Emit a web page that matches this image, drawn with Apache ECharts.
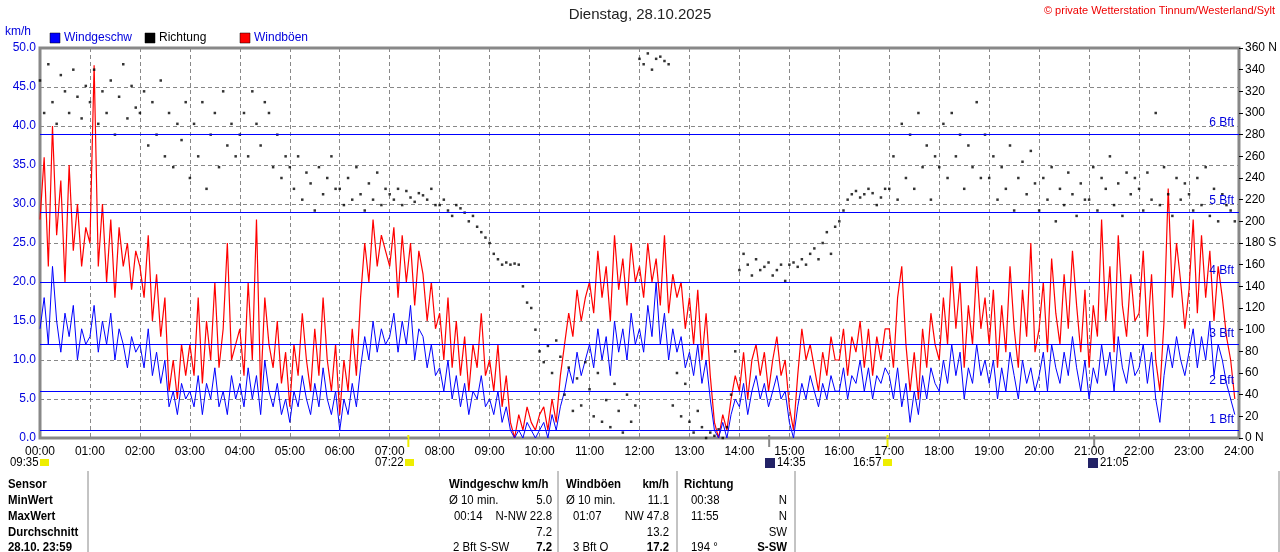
<!DOCTYPE html>
<html><head><meta charset="utf-8">
<script src="https://cdn.jsdelivr.net/npm/echarts@6/dist/echarts.min.js"></script>
<style>html,body{margin:0;padding:0;background:#fff}#c{width:1280px;height:552px}</style>
</head><body><div id="c"></div>
<script>
const hours=['00:00','01:00','02:00','03:00','04:00','05:00','06:00','07:00','08:00','09:00','10:00','11:00','12:00','13:00','14:00','15:00','16:00','17:00','18:00','19:00','20:00','21:00','22:00','23:00','24:00'];
const windSpeed=[
14,18,12,22,15,11,16,13,17,10,14,12, 13,17,11,15,12,16,10,14,12,9,13,11,
12,9,14,8,11,7,10,4,6,3,7,5, 6,4,8,3,7,5,9,4,6,3,8,5,
7,4,9,5,8,3,10,6,4,7,3,5, 2,6,4,8,5,3,7,4,9,5,3,6,
1,5,3,7,4,9,13,10,15,11,14,12, 13,16,11,15,12,17,10,14,13,9,12,8,
9,6,10,5,8,4,7,3,6,5,8,4, 5,3,6,2,4,1,0,1,0,2,1,0,
1,2,0,3,1,4,6,9,7,11,8,10, 12,9,14,10,13,8,15,11,14,10,16,12,
14,11,17,13,20,12,16,10,14,11,13,9, 11,8,12,7,10,5,1,0,2,0,3,5,
4,7,3,6,8,5,7,4,6,8,5,6, 2,0,4,7,5,8,6,4,7,5,8,6,
6,9,5,8,7,10,6,9,5,8,7,9, 8,5,9,4,7,2,6,3,8,5,9,7,
6,10,7,12,8,11,5,9,7,12,8,10, 7,10,5,9,6,11,8,5,10,7,9,6,
8,11,6,12,9,7,11,8,13,9,6,10, 5,9,7,12,8,11,6,13,9,7,11,8,
9,12,7,11,5,2,8,12,9,13,10,8, 11,14,9,13,10,15,8,12,10,7,5,3];
const windGust=[
28,36,22,40,26,33,20,35,24,30,22,27, 25,47.8,22,30,20,28,18,27,22,25,19,24,
22,18,26,15,21,13,18,6,10,5,12,8, 12,8,18,7,15,10,20,9,14,25,10,12,
14,8,20,10,28,6,18,12,9,15,7,11, 4,12,8,16,10,6,14,8,18,10,6,12,
3,10,6,14,8,18,25,20,28,22,26,24, 22,27,18,26,20,25,17,24,21,15,20,14,
16,10,18,9,15,8,13,6,12,9,16,8, 10,6,12,4,8,2,0,3,1,4,2,1,
3,4,1,5,2,8,12,16,13,19,15,18, 20,16,24,18,22,15,26,19,23,17,25,20,
22,18,25,20,23,17,26,16,21,18,20,14, 18,12,19,10,16,8,2,0,3,1,5,8,
6,11,5,10,12,8,11,6,10,13,8,10, 4,1,8,14,10,12,9,6,11,8,13,10,
10,14,8,13,11,15,9,14,8,13,10,14, 14,9,18,22,12,6,11,5,14,9,16,12,
10,18,12,22,14,20,9,17,12,22,14,18, 12,19,9,17,11,22,14,9,19,13,25,11,
14,20,11,23,16,12,21,14,24,17,11,19, 9,17,13,28,15,22,11,26,17,13,21,15,
16,24,13,21,10,6,15,32,18,25,20,14, 19,28,16,26,18,24,15,22,18,13,10,5];
const direction=[
330,300,345,310,290,335,320,300,340,315,295,325, 310,340,290,320,300,330,280,315,345,295,325,305,
300,320,270,310,280,330,260,300,250,290,275,310, 240,290,260,310,230,280,300,250,320,270,290,260,
280,300,260,320,290,270,310,300,250,280,240,260, 250,230,260,220,245,235,210,250,225,240,260,230,
230,215,240,220,250,225,210,235,220,245,215,230, 225,220,230,215,228,222,218,226,224,220,230,215,
215,220,210,205,215,212,208,200,205,195,190,185, 180,170,165,160,162,160,161,160,140,125,120,100,
80,70,85,60,90,75,40,65,25,55,30,70, 45,20,60,15,35,10,50,25,5,40,15,30,
350,345,355,340,350,352,348,345,30,60,20,50, 15,5,25,10,0,5,2,8,0,10,40,80,
155,170,160,150,165,155,158,162,150,155,160,145, 160,162,158,165,160,170,175,165,180,190,170,195,
200,210,220,225,228,222,225,230,226,215,222,230, 230,260,220,290,240,280,230,300,250,270,220,260,
250,290,240,300,260,280,230,270,250,310,240,280, 240,260,220,250,230,270,210,240,255,225,265,235,
210,240,220,250,200,230,215,245,225,205,235,220, 220,250,210,240,230,260,215,235,205,245,225,240,
230,210,245,220,300,215,250,225,205,240,220,235, 225,210,240,215,250,205,230,200,225,215,210,200];
const beaufort=[[1,'1 Bft'],[6,'2 Bft'],[12,'3 Bft'],[20,'4 Bft'],[29,'5 Bft'],[39,'6 Bft']];
const sunMarks=[['09:35',10,'#ee0'],['07:22',375,'#ee0'],['14:35',777,'#226'],['16:57',853,'#ee0'],['21:05',1100,'#226']];
const sunTicks=[[442,'#ee0'],[875,'#888'],[1017,'#ee0'],[1265,'#888']];

const toPts=a=>a.map((v,i)=>[i*5,v]);
const ch=echarts.init(document.getElementById('c'));
const F='Liberation Sans, Arial, sans-serif';
const g=[];
const T=(x,y,t,o,sx)=>g.push({type:'text',x,y,scaleX:sx||1,style:Object.assign({text:t,font:'12px '+F,fill:'#000',textVerticalAlign:'middle'},o||{})});
T(640,15,'Dienstag, 28.10.2025',{font:'15px '+F,textAlign:'center',fill:'#222'});
T(1275,11,'© private Wetterstation Tinnum/Westerland/Sylt',{font:'11px '+F,textAlign:'right',fill:'#e00'});
T(5,32,'km/h',{fill:'#00d'});
[[50,'#00f','Windgeschw','#00d'],[145,'#000','Richtung','#000'],[240,'#f00','Windböen','#00d']].forEach(([x,c,t,tc])=>{
 g.push({type:'rect',shape:{x,y:33,width:10,height:10},style:{fill:c,stroke:'#000',lineWidth:0.5}});
 T(x+14,38,t,{fill:tc});
});
const S=0.95;
sunTicks.forEach(([m,c])=>{const x=40+m/1440*1200;g.push({type:'line',shape:{x1:x,y1:435,x2:x,y2:447},style:{stroke:c,lineWidth:2}});});
sunMarks.forEach(([t,x,c])=>{T(x,463,t,{fill:'#000'},S);const moon=(t==='14:35'||t==='21:05');g.push({type:'rect',shape:{x:x+(moon?-12:30),y:moon?458:459,width:moon?10:9,height:moon?10:7},style:{fill:c}});});
// table
[88,558,677,795,1279].forEach(x=>g.push({type:'line',shape:{x1:x,y1:471,x2:x,y2:552},style:{stroke:'#888',lineWidth:1}}));
const P={font:'12px '+F};
const B={font:'bold 12px '+F};
const rows=[485,501,517,533,548];
['Sensor','MinWert','MaxWert','Durchschnitt','28.10. 23:59'].forEach((t,i)=>T(8,rows[i],t,B,S));
T(449,rows[0],'Windgeschw km/h',B,S);T(566,rows[0],'Windböen',B,S);T(669,rows[0],'km/h',Object.assign({textAlign:'right'},B),S);T(684,rows[0],'Richtung',B,S);
const L=(x,y,t)=>T(x,y,t,P,S);
const R=(x,y,t,b)=>T(x,y,t,Object.assign({textAlign:'right'},b?B:P),S);
L(449,rows[1],'Ø 10 min.');R(552,rows[1],'5.0');L(566,rows[1],'Ø 10 min.');R(669,rows[1],'11.1');L(691,rows[1],'00:38');R(787,rows[1],'N');
L(454,rows[2],'00:14');R(552,rows[2],'N-NW 22.8');L(573,rows[2],'01:07');R(669,rows[2],'NW 47.8');L(691,rows[2],'11:55');R(787,rows[2],'N');
R(552,rows[3],'7.2');R(669,rows[3],'13.2');R(787,rows[3],'SW');
L(453,rows[4],'2 Bft S-SW');R(552,rows[4],'7.2',1);L(573,rows[4],'3 Bft O');R(669,rows[4],'17.2',1);L(691,rows[4],'194 °');R(787,rows[4],'S-SW',1);

ch.setOption({
 animation:false,
 textStyle:{fontFamily:F},
 grid:{left:40,right:40,top:48,height:390,show:true,borderColor:'#888',borderWidth:3},
 xAxis:{type:'value',min:0,max:1440,interval:60,axisLine:{show:false},axisTick:{show:false},
  axisLabel:{color:'#000',fontSize:12,margin:8,formatter:v=>hours[v/60]},
  splitLine:{lineStyle:{color:'#888',type:[4,3]}}},
 yAxis:[{type:'value',min:0,max:50,interval:5,axisLine:{show:false},axisTick:{show:false},
  axisLabel:{color:'#00d',fontSize:12,margin:4,formatter:v=>v.toFixed(1)},
  splitLine:{lineStyle:{color:'#888',type:[4,3]}}},
  {type:'value',min:0,max:360,interval:20,position:'right',axisLine:{show:false},
  axisTick:{show:true,length:4,lineStyle:{color:'#000'}},splitLine:{show:false},
  axisLabel:{color:'#000',fontSize:12,margin:6,formatter:v=>v+(v===0||v===360?' N':v===180?' S':'')}}],
 series:[
  {type:'line',data:toPts(windGust),showSymbol:false,lineStyle:{color:'#f00',width:1.2},z:2},
  {type:'line',data:toPts(windSpeed),showSymbol:false,lineStyle:{color:'#00f',width:1},z:3,
   markLine:{silent:true,symbol:'none',lineStyle:{color:'#00f',width:1,type:'solid'},
    label:{position:'insideEndTop',color:'#00d',fontSize:12,formatter:p=>p.name},
    data:beaufort.map(([v,n])=>({yAxis:v,name:n}))}},
  {type:'scatter',yAxisIndex:1,data:toPts(direction),symbol:'rect',symbolSize:2.5,itemStyle:{color:'#000'},z:4}
 ],
 graphic:g
});
</script></body></html>
